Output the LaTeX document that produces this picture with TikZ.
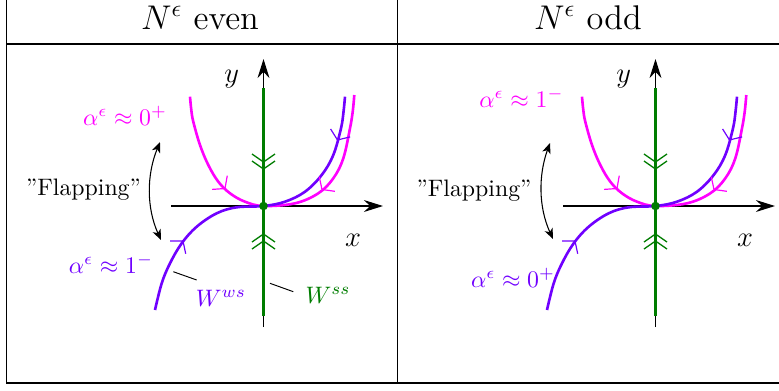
\documentclass[tikz,border=0pt]{standalone}
\usetikzlibrary{arrows.meta}
\definecolor{purp}{RGB}{112,0,255}
\definecolor{mag}{RGB}{255,0,255}
\definecolor{dgreen}{RGB}{0,125,0}
\tikzset{
 tabline/.style={line width=0.5pt},
 axisline/.style={line width=0.5pt,-{Stealth[length=8pt,width=5pt,inset=2.6pt]}},
 plainaxis/.style={line width=0.5pt},
 ssline/.style={draw=dgreen,line width=0.85pt},
 chevron/.style={draw=dgreen,line width=0.55pt},
 flow/.style={line width=1.1pt},
 barbline/.style={line width=0.5pt},
 leader/.style={line width=0.4pt},
 flap/.style={line width=0.45pt,{Stealth[length=4.4pt,width=3.6pt,inset=1.2pt]}-{Stealth[length=4.4pt,width=3.6pt,inset=1.2pt]}},
}
\newcommand\barbat[4]{\draw[#1,barbline] (#2) -- ++(#3:13) (#2) -- ++(#4:13);}
\newcommand\phaseportrait[1]{%
 \begin{scope}[shift={(263.5,206)}]
  \coordinate (#1xa) at (-92.5,0);
  \coordinate (#1xb) at (119.5,0);
  \coordinate (#1ya) at (0,121);
  \coordinate (#1yg) at (0,110);
  \coordinate (#1yh) at (0,-118);
  \coordinate (#1yb) at (0,-147);
  \draw[axisline] (#1xa) -- (#1xb);
  \draw[plainaxis] (#1ya) -- (#1yg);
  \draw[axisline] (#1yh) -- (#1yb);
  \draw[ssline] (#1yg) -- (#1yh);
  \foreach \v in {-44,-37} \draw[chevron] (-11.5,\v-8) -- (0,\v) -- (11.5,\v-8);
  \foreach \v in {28,35} \draw[chevron] (-11.5,\v+8) -- (0,\v) -- (11.5,\v+8);
  \draw[flow,mag] plot[smooth,tension=0.6] coordinates {(-73.5,-109.3) (-72.2,-96) (-70.2,-84.3) (-63.5,-61) (-55.2,-41) (-45.2,-24.3) (-33.5,-12.7) (-18.5,-4.3) (0,0) (31.5,-2.7) (54.8,-12.7) (69.8,-27.7) (79.8,-47.7) (86.5,-77.7) (89.3,-95) (90.8,-111)};
  \draw[flow,purp] plot[smooth,tension=0.6] coordinates {(-108.5,104) (-101.8,77.3) (-93.5,57.3) (-81.8,37.3) (-66.8,20.7) (-46.8,7.3) (-26.8,1.3) (0,0) (21.5,-4.3) (41.5,-14.3) (58.2,-31) (69.8,-51) (77.5,-77.7) (80,-94) (81.5,-109.3)};
  \barbat{purp}{74,-66}{-14}{-122}
  \barbat{purp}{-80.5,35}{180}{78}
  \barbat{mag}{-38.5,-17.5}{176}{-80}
  \barbat{mag}{58.5,-16.5}{8}{-102}
  \fill[dgreen] (0,0) coordinate (#1O) circle[radius=1.8pt];
  \node[font=\large,anchor=base] (#1x) at (89.5,40.5) {$x$};
  \node[font=\large,anchor=base] (#1y) at (-31.8,-124) {$y$};
 \end{scope}}
\begin{document}
\begin{tikzpicture}[x=0.42pt,y=-0.42pt]
\useasboundingbox (0,0) rectangle (779,390);
% table
\draw[tabline] (6.5,0) -- (6.5,383);
\draw[tabline] (397.5,0) -- (397.5,383);
\draw[tabline] (6.5,44) -- (779,44);
\draw[tabline] (6.5,383) -- (779,383);
\node[font=\Large,anchor=base] (H1) at (200,29.3) {$N^\epsilon$ even};
\node[font=\Large,anchor=base] (H2) at (588,29.3) {$N^\epsilon$ odd};
% panels
\phaseportrait{L}
\begin{scope}[shift={(392,0)}]
 \phaseportrait{R}
\end{scope}
% left labels
\node[mag,anchor=base] (Lmag) at (125,125) {$\alpha^\epsilon\approx 0^+$};
\node[purp,anchor=base] (Lpur) at (111,273) {$\alpha^\epsilon\approx 1^-$};
\node[anchor=base] (Lflap) at (83.5,195) {”Flapping”};
\coordinate (Lfa) at (160,142);
\coordinate (Lfb) at (161,240);
\draw[flap] (Lfa) .. controls (146.5,175) and (146.5,208) .. (Lfb);
\node[purp,anchor=base] (Lws) at (221,306) {$W^{ws}$};
\node[dgreen,anchor=base] (Lss) at (328,303) {$W^{ss}$};
\coordinate (Lwsa) at (173.3,271.7);
\coordinate (Lwsb) at (196.7,280);
\coordinate (Lssa) at (270,283.3);
\coordinate (Lssb) at (293.3,291.7);
\draw[leader] (Lwsa) -- (Lwsb);
\draw[leader] (Lssa) -- (Lssb);
% right labels
\node[mag,anchor=base] (Rmag) at (521.5,107) {$\alpha^\epsilon\approx 1^-$};
\node[purp,anchor=base] (Rpur) at (513,287) {$\alpha^\epsilon\approx 0^+$};
\node[anchor=base] (Rflap) at (474,196.5) {”Flapping”};
\coordinate (Rfa) at (550,143);
\coordinate (Rfb) at (553,239);
\draw[flap] (Rfa) .. controls (538.4,175) and (538.4,207) .. (Rfb);
\end{tikzpicture}
\end{document}
